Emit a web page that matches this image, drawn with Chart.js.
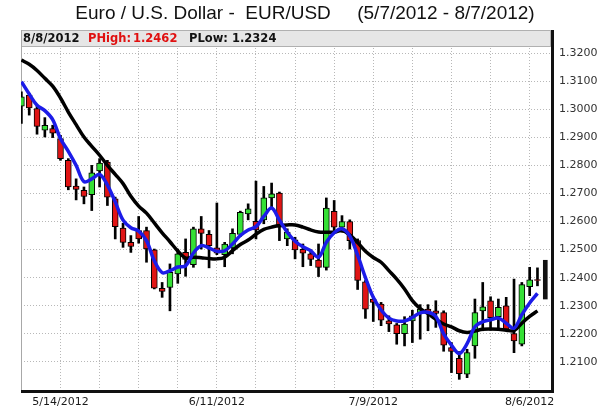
<!DOCTYPE html>
<html>
<head>
<meta charset="utf-8">
<script src="https://cdn.jsdelivr.net/npm/chart.js@4.4.1/dist/chart.umd.min.js"></script>
<style>
html,body{margin:0;padding:0;background:#fff;}
#wrap{width:600px;height:412px;position:relative;}
</style>
</head>
<body>
<div id="wrap"><canvas id="c" width="600" height="412"></canvas></div>
<script>
// ---- data ----
const dates = [
 '5/7/2012','5/8/2012','5/9/2012','5/10/2012','5/11/2012',
 '5/14/2012','5/15/2012','5/16/2012','5/17/2012','5/18/2012',
 '5/21/2012','5/22/2012','5/23/2012','5/24/2012','5/25/2012',
 '5/28/2012','5/29/2012','5/30/2012','5/31/2012','6/1/2012',
 '6/4/2012','6/5/2012','6/6/2012','6/7/2012','6/8/2012',
 '6/11/2012','6/12/2012','6/13/2012','6/14/2012','6/15/2012',
 '6/18/2012','6/19/2012','6/20/2012','6/21/2012','6/22/2012',
 '6/25/2012','6/26/2012','6/27/2012','6/28/2012','6/29/2012',
 '7/2/2012','7/3/2012','7/4/2012','7/5/2012','7/6/2012',
 '7/9/2012','7/10/2012','7/11/2012','7/12/2012','7/13/2012',
 '7/16/2012','7/17/2012','7/18/2012','7/19/2012','7/20/2012',
 '7/23/2012','7/24/2012','7/25/2012','7/26/2012','7/27/2012',
 '7/30/2012','7/31/2012','8/1/2012','8/2/2012','8/3/2012',
 '8/6/2012','8/7/2012','8/8/2012'
];
const openP = [
 1.3011,1.3050,1.3002,1.2925,1.2931,1.2895,1.2818,1.2726,1.2711,1.2696,
 1.2780,1.2812,1.2681,1.2577,1.2526,1.2568,1.2568,1.2499,1.2362,1.2365,
 1.2413,1.2490,1.2446,1.2574,1.2554,1.2506,1.2482,1.2506,1.2554,1.2627,
 1.2601,1.2606,1.2684,1.2701,1.2538,1.2535,1.2501,1.2485,1.2463,1.2437,
 1.2636,1.2580,1.2600,1.2532,1.2385,1.2324,1.2306,1.2246,1.2232,1.2201,
 1.2246,1.2273,1.2288,1.2282,1.2276,1.2151,1.2113,1.2056,1.2157,1.2282,
 1.2318,1.2261,1.2300,1.2201,1.2163,1.2368,1.2393
];
const highP = [
 1.3062,1.3056,1.3011,1.2970,1.2943,1.2907,1.2824,1.2752,1.2723,1.2800,
 1.2824,1.2818,1.2687,1.2594,1.2550,1.2618,1.2580,1.2502,1.2383,1.2449,
 1.2502,1.2538,1.2580,1.2618,1.2568,1.2666,1.2526,1.2574,1.2637,1.2663,
 1.2744,1.2725,1.2737,1.2705,1.2574,1.2544,1.2520,1.2499,1.2520,1.2684,
 1.2675,1.2621,1.2606,1.2538,1.2390,1.2332,1.2312,1.2264,1.2237,1.2261,
 1.2284,1.2304,1.2304,1.2318,1.2282,1.2169,1.2137,1.2145,1.2324,1.2383,
 1.2332,1.2324,1.2330,1.2395,1.2383,1.2437,1.2435
];
const lowP = [
 1.2949,1.2979,1.2911,1.2901,1.2899,1.2818,1.2713,1.2677,1.2663,1.2639,
 1.2723,1.2657,1.2538,1.2508,1.2490,1.2523,1.2455,1.2360,1.2330,1.2282,
 1.2380,1.2405,1.2437,1.2502,1.2435,1.2482,1.2439,1.2485,1.2546,1.2606,
 1.2538,1.2592,1.2651,1.2532,1.2514,1.2467,1.2439,1.2443,1.2404,1.2427,
 1.2568,1.2562,1.2502,1.2358,1.2255,1.2244,1.2229,1.2208,1.2163,1.2157,
 1.2169,1.2181,1.2211,1.2223,1.2138,1.2062,1.2038,1.2044,1.2113,1.2211,
 1.2213,1.2217,1.2211,1.2133,1.2157,1.2336,1.2371
];
const closeP = [
 1.3044,1.3005,1.2939,1.2943,1.2915,1.2824,1.2723,1.2714,1.2689,1.2773,
 1.2808,1.2687,1.2582,1.2526,1.2511,1.2538,1.2502,1.2363,1.2351,1.2419,
 1.2485,1.2465,1.2574,1.2558,1.2514,1.2487,1.2520,1.2558,1.2633,1.2645,
 1.2570,1.2684,1.2699,1.2580,1.2562,1.2499,1.2487,1.2465,1.2437,1.2648,
 1.2580,1.2600,1.2532,1.2390,1.2288,1.2312,1.2249,1.2235,1.2201,1.2235,
 1.2264,1.2288,1.2276,1.2273,1.2160,1.2137,1.2058,1.2133,1.2276,1.2296,
 1.2258,1.2294,1.2217,1.2175,1.2375,1.2392,1.2390
];
// moving-average lines as drawn in the picture
const maFast = [
 1.3098,1.3054,1.3014,1.2995,1.2963,1.2895,1.2850,1.2800,1.2742,1.2752,
 1.2768,1.2730,1.2670,1.2605,1.2578,1.2566,1.2532,1.2460,1.2418,1.2425,
 1.2438,1.2442,1.2488,1.2514,1.2506,1.2494,1.2496,1.2520,1.2550,1.2570,
 1.2582,1.2618,1.2648,1.2605,1.2562,1.2530,1.2510,1.2496,1.2473,1.2526,
 1.2560,1.2574,1.2548,1.2480,1.2400,1.2330,1.2285,1.2256,1.2246,1.2246,
 1.2258,1.2275,1.2277,1.2262,1.2200,1.2160,1.2130,1.2165,1.2225,1.2243,
 1.2250,1.2256,1.2238,1.2220,1.2268,1.2310,1.2344
];
const maSlow = [
 1.3175,1.3160,1.3138,1.3110,1.3082,1.3040,1.2990,1.2945,1.2901,1.2868,
 1.2836,1.2800,1.2768,1.2735,1.2690,1.2655,1.2630,1.2595,1.2560,1.2528,
 1.2495,1.2470,1.2473,1.2471,1.2468,1.2467,1.2473,1.2496,1.2518,1.2534,
 1.2555,1.2572,1.2580,1.2586,1.2588,1.2588,1.2580,1.2570,1.2563,1.2562,
 1.2562,1.2568,1.2552,1.2525,1.2494,1.2472,1.2455,1.2425,1.2395,1.2360,
 1.2318,1.2290,1.2272,1.2252,1.2235,1.2225,1.2211,1.2205,1.2210,1.2216,
 1.2217,1.2216,1.2213,1.2211,1.2238,1.2262,1.2282
];
const lastDate = '8/8/2012';
const lastHigh = 1.2462;
const lastLow = 1.2324;
const yTickValues = [1.21,1.22,1.23,1.24,1.25,1.26,1.27,1.28,1.29,1.30,1.31,1.32];
const xGridIdx = [0,5,10,15,20,25,30,35,40,45,50,55,60,65];
const xLabelIdx = [5,25,45,65];
const titleText = 'Euro / U.S. Dollar -  EUR/USD     (5/7/2012 - 8/7/2012)';

// ---- chart ----
Chart.defaults.font.family = '"DejaVu Sans", Verdana, sans-serif';

const GREEN = '#35e035';
const RED = '#e01414';

const framePlugin = {
  id: 'framePlugin',
  beforeDatasetsDraw(chart) {
    const {ctx, chartArea: a} = chart;
    ctx.save();
    // title
    ctx.font = '19px "Liberation Sans", Arial, sans-serif';
    ctx.fillStyle = '#111';
    ctx.textAlign = 'center';
    ctx.textBaseline = 'middle';
    ctx.fillText(titleText, 305, 14);
    // header bar
    const hTop = a.top, hH = 16;
    ctx.fillStyle = '#e6e6e6';
    ctx.fillRect(a.left, hTop, a.right - a.left, hH);
    ctx.strokeStyle = '#b0b0b0';
    ctx.lineWidth = 1;
    ctx.strokeRect(a.left + 0.5, hTop + 0.5, a.right - a.left - 1, hH);
    // header text (offsets from the left edge of the plot)
    ctx.font = 'bold 11.5px "DejaVu Sans", Verdana, sans-serif';
    ctx.textBaseline = 'middle';
    ctx.textAlign = 'left';
    const y = hTop + hH / 2 + 1;
    const parts = [
      [lastDate, '#111', 2],
      ['PHigh:', '#e01010', 67],
      [lastHigh.toFixed(4), '#e01010', 112],
      ['PLow:', '#111', 168],
      [lastLow.toFixed(4), '#111', 211]
    ];
    parts.forEach(([t, c, dx]) => {
      ctx.fillStyle = c;
      ctx.fillText(t, a.left + dx, y);
    });
    // thin left frame
    ctx.strokeStyle = '#a8a8a8';
    ctx.beginPath();
    ctx.moveTo(a.left + 0.5, a.top);
    ctx.lineTo(a.left + 0.5, a.bottom);
    ctx.stroke();
    ctx.restore();
  },
  afterDatasetsDraw(chart) {
    const {ctx, chartArea: a} = chart;
    ctx.save();
    ctx.strokeStyle = '#111';
    ctx.lineWidth = 3;
    ctx.beginPath();
    ctx.moveTo(a.right + 1.5, a.top);
    ctx.lineTo(a.right + 1.5, a.bottom + 3);
    ctx.moveTo(a.left, a.bottom + 1.5);
    ctx.lineTo(a.right + 3, a.bottom + 1.5);
    ctx.stroke();
    ctx.restore();
  }
};

const ctx = document.getElementById('c').getContext('2d');
new Chart(ctx, {
  type: 'bar',
  data: {
    datasets: [
      {
        type: 'line', label: 'Fast MA',
        data: maFast.map((v, i) => ({x: i, y: v})),
        borderColor: '#1c1ce8', borderWidth: 3.5, pointRadius: 0,
        tension: 0.35, order: 0, fill: false
      },
      {
        type: 'line', label: 'Slow MA',
        data: maSlow.map((v, i) => ({x: i, y: v})),
        borderColor: '#000000', borderWidth: 3.5, pointRadius: 0,
        tension: 0.35, order: 1, fill: false
      },
      {
        label: 'Body',
        data: closeP.map((c, i) => ({x: i, y: [openP[i], c]})),
        backgroundColor: closeP.map((c, i) => c > openP[i] ? GREEN : RED),
        borderColor: '#000', borderWidth: 1, borderSkipped: false,
        barThickness: 6, grouped: false, order: 2
      },
      {
        label: 'Range',
        data: highP.map((h, i) => ({x: i, y: [lowP[i], h]})),
        backgroundColor: '#000', borderWidth: 0,
        barThickness: 2, grouped: false, order: 3
      },
      {
        label: 'Current',
        data: [{x: dates.length - 1, y: [lastLow, lastHigh]}],
        backgroundColor: '#111', borderWidth: 0,
        barThickness: 4, grouped: false, order: 3
      }
    ]
  },
  options: {
    responsive: false,
    animation: false,
    events: [],
    layout: {padding: {left: 21, right: 0, top: 30, bottom: 0}},
    plugins: {
      legend: {display: false},
      tooltip: {enabled: false},
      title: {display: false}
    },
    scales: {
      x: {
        type: 'linear', min: -0.05, max: 67.73, offset: false,
        afterBuildTicks: s => { s.ticks = xGridIdx.map(v => ({value: v})); },
        afterFit: s => { s.height = 22; },
        ticks: {
          autoSkip: false, maxRotation: 0, padding: 6, color: '#1a1a1a',
          font: {size: 11},
          callback: v => xLabelIdx.includes(v) ? dates[v] : ''
        },
        grid: {offset: false, color: '#b8b8b8', lineWidth: 1, drawTicks: false},
        border: {display: false, dash: [1, 2]}
      },
      y: {
        position: 'right', min: 1.2, max: 1.32821, beginAtZero: false,
        afterBuildTicks: s => { s.ticks = yTickValues.map(v => ({value: v})); },
        afterFit: s => { s.width = 49; },
        ticks: {
          padding: 8, color: '#333', font: {size: 11},
          callback: v => Number(v).toFixed(4)
        },
        grid: {color: '#b8b8b8', lineWidth: 1, drawTicks: false},
        border: {display: false, dash: [1, 2]}
      }
    }
  },
  plugins: [framePlugin]
});
</script>
</body>
</html>
